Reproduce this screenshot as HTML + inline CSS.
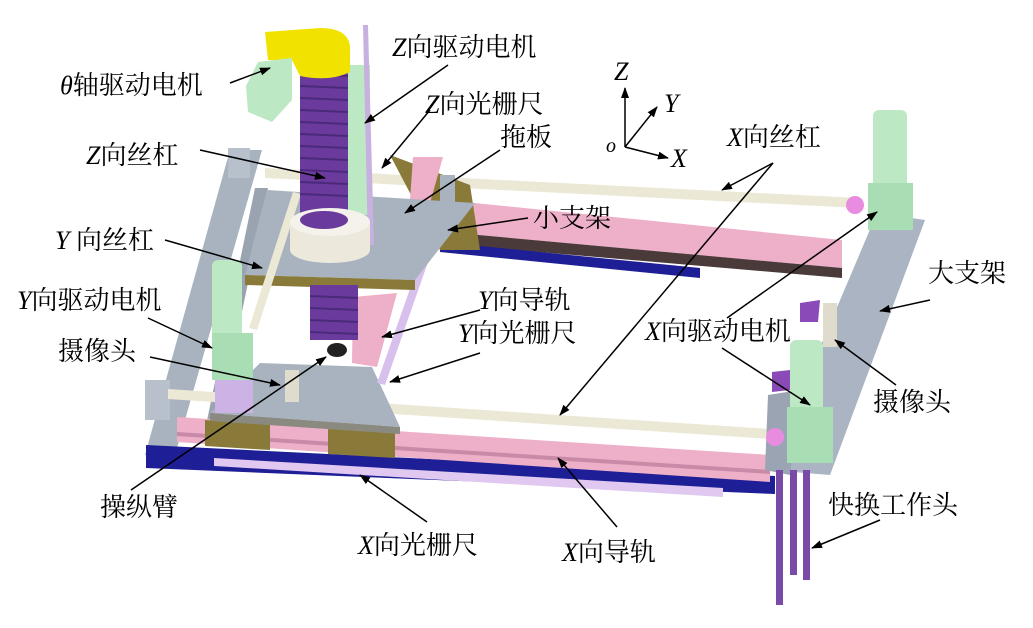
<!DOCTYPE html>
<html><head><meta charset="utf-8"><style>
body{margin:0;background:#fff}
svg{display:block}
text{font-family:"Liberation Serif","Noto Serif CJK SC",serif;font-size:26px;fill:#000}
.i{font-style:italic}
</style></head><body>
<svg width="1033" height="628" viewBox="0 0 1033 628" xmlns="http://www.w3.org/2000/svg">
<defs><marker id="a" markerWidth="11" markerHeight="8" refX="10" refY="4" orient="auto" markerUnits="userSpaceOnUse"><path d="M0,0 L11,4 L0,8 Z" fill="#000"/></marker></defs>
<polygon points="230,150 262,150 175,455 145,455" fill="#a9b3bf"/>
<polygon points="255,188 268,188 215,440 203,440" fill="#9aa3b0"/>
<rect x="228" y="148" width="22" height="30" fill="#b8c0cc"/>
<rect x="145" y="380" width="25" height="40" fill="#b8c0cc"/>
<polygon points="146,445 775,476 775,494 146,468" fill="#1e1e96"/>
<polygon points="214,458 723,488 723,497 214,466" fill="#e0c8f0"/>
<polygon points="177,417 770,455 770,482 177,442" fill="#eeafc8"/>
<polygon points="177,432 770,470 770,474 177,436" fill="#c98aa7"/>
<polygon points="205,420 270,424 270,450 205,446" fill="#8a7a3a"/>
<polygon points="328,428 395,432 395,458 328,454" fill="#8a7a3a"/>
<polygon points="168,389 785,430 785,440 168,399" fill="#ece8d6"/>
<polygon points="260,363 372,367 400,427 210,413" fill="#a9b3bf"/>
<polygon points="210,413 400,427 400,434 210,421" fill="#8a8a80"/>
<rect x="285" y="370" width="14" height="32" fill="#e0dccd"/>
<polygon points="447,183 455,185 385,385 377,383" fill="#d8c0ec"/>
<polygon points="353,297 397,293 377,367 352,363" fill="#eeafc8"/>
<polygon points="877,213 925,220 830,475 768,470" fill="#aab4c2"/>
<polygon points="768,395 800,390 790,475 765,470" fill="#9aa4b2"/>
<polygon points="445,200 842,240 842,268 445,232" fill="#eeafc8"/>
<polygon points="445,232 842,268 842,278 445,244" fill="#4a3a3a"/>
<polygon points="440,242 700,268 700,278 440,252" fill="#1e1e96"/>
<polygon points="265,168 858,198 858,208 265,178" fill="#ece8d6"/>
<circle cx="855" cy="205" r="9" fill="#e88ce0"/>
<circle cx="775" cy="437" r="9" fill="#e88ce0"/>
<polygon points="390,155 470,185 480,250 440,250" fill="#8a7a3a"/>
<polygon points="413,157 443,157 430,203 410,200" fill="#eeafc8"/>
<polygon points="440,175 455,175 455,210 440,210" fill="#a9b3bf"/>
<polygon points="267,190 475,203 415,280 245,275" fill="#a9b3bf"/>
<polygon points="245,275 415,280 415,290 245,285" fill="#8a7a3a"/>
<polygon points="293,192 301,194 257,330 249,328" fill="#ece8d6"/>
<rect x="212" y="260" width="30" height="80" rx="6" fill="#bde8c4"/>
<rect x="212" y="333" width="41" height="47" fill="#a9deb4"/>
<rect x="215" y="380" width="38" height="33" fill="#cdb2e6"/>
<rect x="300" y="60" width="48" height="165" fill="#6a3a9c"/>
<g stroke="#4a2a7a" stroke-width="2">
<line x1="300" y1="74" x2="348" y2="76"/><line x1="300" y1="86" x2="348" y2="88"/><line x1="300" y1="98" x2="348" y2="100"/><line x1="300" y1="110" x2="348" y2="112"/><line x1="300" y1="122" x2="348" y2="124"/><line x1="300" y1="134" x2="348" y2="136"/><line x1="300" y1="146" x2="348" y2="148"/><line x1="300" y1="158" x2="348" y2="160"/><line x1="300" y1="170" x2="348" y2="172"/><line x1="300" y1="182" x2="348" y2="184"/><line x1="300" y1="194" x2="348" y2="196"/>
</g>
<rect x="310" y="285" width="48" height="55" fill="#6a3a9c"/>
<g stroke="#4a2a7a" stroke-width="2">
<line x1="310" y1="296" x2="358" y2="298"/><line x1="310" y1="308" x2="358" y2="310"/><line x1="310" y1="320" x2="358" y2="322"/><line x1="310" y1="332" x2="358" y2="334"/>
</g>
<ellipse cx="337" cy="350" rx="10" ry="7" fill="#222"/>
<rect x="348" y="65" width="22" height="150" fill="#bde8c4"/>
<polygon points="363,25 368,25 374,245 368,245" fill="#c8b0e0"/>
<rect x="290" y="222" width="80" height="28" fill="#ece9dc"/>
<ellipse cx="330" cy="250" rx="40" ry="13" fill="#ece9dc"/>
<ellipse cx="330" cy="222" rx="40" ry="14" fill="#f4f2ea"/>
<ellipse cx="324" cy="220" rx="24" ry="9" fill="#6a3a9c"/>
<path d="M265,32 L320,28 Q352,28 350,52 L350,72 Q330,82 300,76 L292,60 L268,60 Z" fill="#f2e200"/>
<polygon points="258,62 292,58 292,100 272,122 248,112 246,86" fill="#bde8c4"/>
<rect x="873" y="110" width="34" height="78" rx="6" fill="#bde8c4"/>
<rect x="868" y="183" width="45" height="47" fill="#a9deb4"/>
<rect x="790" y="340" width="33" height="75" rx="6" fill="#bde8c4"/>
<rect x="787" y="407" width="46" height="56" fill="#a9deb4"/>
<rect x="823" y="303" width="14" height="44" fill="#e0dccd"/>
<polygon points="800,303 820,300 818,322 800,322" fill="#8a4ab8"/>
<polygon points="772,372 790,370 790,390 772,392" fill="#8a4ab8"/>
<rect x="776" y="470" width="7" height="135" fill="#7a4aa8"/>
<rect x="790" y="470" width="7" height="105" fill="#7a4aa8"/>
<rect x="803" y="470" width="7" height="110" fill="#7a4aa8"/>
<g stroke="#000" stroke-width="1.5" fill="none">
<line x1="625" y1="147" x2="625" y2="88" marker-end="url(#a)"/>
<line x1="625" y1="147" x2="657" y2="107" marker-end="url(#a)"/>
<line x1="625" y1="147" x2="668" y2="158" marker-end="url(#a)"/>
</g>
<text x="614" y="80" class="i">Z</text><text x="664" y="112" class="i">Y</text><text x="671" y="167" class="i">X</text><text x="606" y="152" class="i" style="font-size:20px">o</text>
<g stroke="#000" stroke-width="1.5" fill="none" marker-end="url(#a)">
<line x1="230" y1="83" x2="270" y2="68"/>
<line x1="448" y1="65" x2="365" y2="123"/>
<line x1="430" y1="110" x2="382" y2="168"/>
<line x1="200" y1="150" x2="325" y2="178"/>
<line x1="500" y1="150" x2="405" y2="213"/>
<line x1="773" y1="163" x2="722" y2="190"/>
<line x1="773" y1="163" x2="560" y2="415"/>
<line x1="528" y1="218" x2="448" y2="230"/>
<line x1="165" y1="240" x2="262" y2="268"/>
<line x1="930" y1="300" x2="880" y2="311"/>
<line x1="148" y1="318" x2="212" y2="348"/>
<line x1="480" y1="310" x2="382" y2="337"/>
<line x1="480" y1="353" x2="390" y2="382"/>
<line x1="727" y1="318" x2="877" y2="212"/>
<line x1="722" y1="348" x2="810" y2="405"/>
<line x1="150" y1="357" x2="280" y2="385"/>
<line x1="896" y1="385" x2="835" y2="340"/>
<line x1="131" y1="490" x2="326" y2="357"/>
<line x1="427" y1="522" x2="360" y2="475"/>
<line x1="617" y1="527" x2="558" y2="458"/>
<line x1="880" y1="520" x2="812" y2="548"/>
</g>
<text x="60" y="94"><tspan class="i">θ</tspan>轴驱动电机</text>
<text x="392" y="56"><tspan class="i">Z</tspan>向驱动电机</text>
<text x="425" y="113"><tspan class="i">Z</tspan>向光栅尺</text>
<text x="86" y="164"><tspan class="i">Z</tspan>向丝杠</text>
<text x="500" y="146">拖板</text>
<text x="727" y="146"><tspan class="i">X</tspan>向丝杠</text>
<text x="533" y="227">小支架</text>
<text x="55" y="249"><tspan class="i">Y</tspan> 向丝杠</text>
<text x="928" y="282">大支架</text>
<text x="17" y="309"><tspan class="i">Y</tspan>向驱动电机</text>
<text x="478" y="309"><tspan class="i">Y</tspan>向导轨</text>
<text x="458" y="342"><tspan class="i">Y</tspan>向光栅尺</text>
<text x="645" y="340"><tspan class="i">X</tspan>向驱动电机</text>
<text x="58" y="360">摄像头</text>
<text x="873" y="411">摄像头</text>
<text x="100" y="516">操纵臂</text>
<text x="828" y="514">快换工作头</text>
<text x="358" y="554"><tspan class="i">X</tspan>向光栅尺</text>
<text x="562" y="561"><tspan class="i">X</tspan>向导轨</text>
</svg>
</body></html>
